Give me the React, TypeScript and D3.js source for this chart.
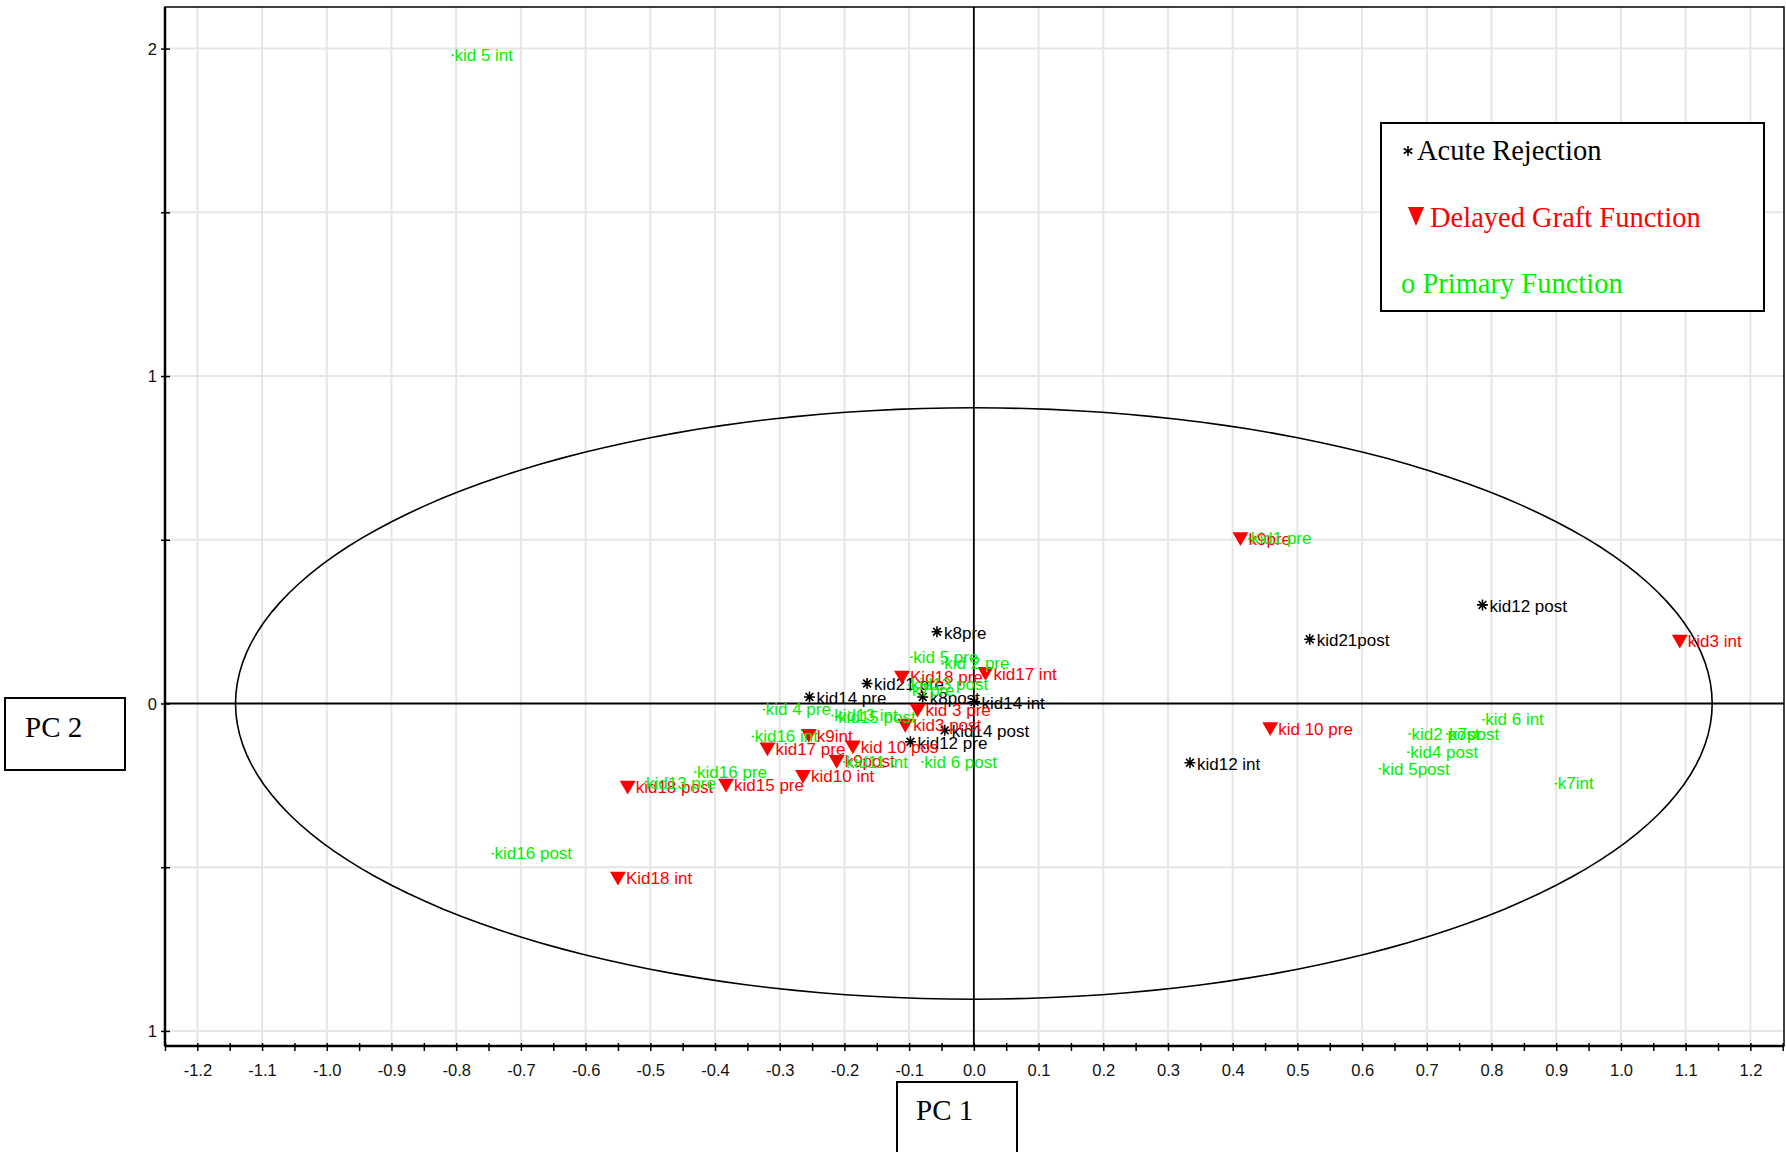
import * as d3 from "d3";
import React, { useEffect, useRef } from "react";

// Acute Rejection (black asterisks)
const acuteLabels = ["k8pre", "kid21 pre", "kid14 pre", "k8post", "kid14 int", "kid14 post", "kid12 pre", "kid12 post", "kid21post", "kid12 int"];
const acutePc1 = [-0.057, -0.165, -0.254, -0.079, 0.001, -0.045, -0.098, 0.786, 0.519, 0.334];
const acutePc2 = [0.219, 0.061, 0.02, 0.02, 0.005, -0.082, -0.117, 0.301, 0.196, -0.181];

// Delayed Graft Function (red triangles)
const delayedLabels = ["Kid18 pre", "kid17 int", "kid 3 pre", "kid3 post", "k9int", "kid17 pre", "kid 10 pos", "k9post", "kid10 int", "kid15 pre", "kid18 post", "Kid18 int", "k9pre", "kid 10 pre", "kid3 int"];
const delayedPc1 = [-0.111, 0.018, -0.087, -0.106, -0.255, -0.319, -0.187, -0.212, -0.264, -0.383, -0.535, -0.55, 0.412, 0.458, 1.091];
const delayedPc2 = [0.086, 0.097, -0.015, -0.061, -0.092, -0.133, -0.127, -0.171, -0.217, -0.244, -0.25, -0.528, 0.509, -0.071, 0.196];

// Primary Function (green dots)
const primaryLabels = ["kid 5 int", "kid 5 pre", "kid 2 pre", "kid13 post", "k7pre", "kid 4 pre", "kid13 int", "kid15 post", "kid16 int", "kid11 int", "kid 6 post", "kid16 pre", "kid13 pre", "kid16 post", "kid1 pre", "kid2 post", "k7post", "kid 6 int", "kid4 post", "kid 5post", "k7int"];
const primaryPc1 = [-0.805, -0.096, -0.048, -0.1, -0.098, -0.324, -0.218, -0.212, -0.341, -0.2, -0.079, -0.43, -0.509, -0.743, 0.426, 0.674, 0.732, 0.788, 0.672, 0.628, 0.9];
const primaryPc2 = [1.981, 0.142, 0.122, 0.058, 0.04, -0.018, -0.036, -0.04, -0.1, -0.178, -0.178, -0.209, -0.244, -0.458, 0.504, -0.092, -0.092, -0.049, -0.148, -0.199, -0.244];

const xTickValues = d3.range(-12, 13).map((i) => i / 10);
const xTickLabels = ["-1.2", "-1.1", "-1.0", "-0.9", "-0.8", "-0.7", "-0.6", "-0.5", "-0.4", "-0.3", "-0.2", "-0.1", "0.0", "0.1", "0.2", "0.3", "0.4", "0.5", "0.6", "0.7", "0.8", "0.9", "1.0", "1.1", "1.2"];
const yTickValues = [-1, 0, 1, 2];
const yTickLabels = ["1", "0", "1", "2"];

// correlation circle radii (PC1, PC2)
const ellipseRadii = [1.141, 0.903];

const legendLabels = ["Acute Rejection", "Delayed Graft Function", "Primary Function"];

const GREEN = "#00f000";
const RED = "#ff0000";
const SANS = "'Liberation Sans', Arial, sans-serif";
const SERIF = "'Liberation Serif', 'Times New Roman', serif";

const App: React.FC = () => {
  const ref = useRef<SVGSVGElement>(null);

  useEffect(() => {
    if (!ref.current) return;
    const svg = d3.select(ref.current);
    svg.selectAll("*").remove();

    const left = 165, right = 1784, top = 7, bottom = 1046;
    const x = d3.scaleLinear().domain([-1.25, 1.252]).range([left, right]);
    const y = d3.scaleLinear().domain([-1.046, 2.127]).range([bottom, top]);

    // grid
    const grid = svg.append("g").attr("stroke", "#e6e6e6").attr("stroke-width", 2);
    grid
      .selectAll("line.v")
      .data(xTickValues.filter((v) => Math.abs(v) > 1e-9))
      .join("line")
      .attr("x1", (d) => x(d))
      .attr("x2", (d) => x(d))
      .attr("y1", top)
      .attr("y2", bottom);
    grid
      .selectAll("line.h")
      .data([-1, -0.5, 0.5, 1, 1.5, 2])
      .join("line")
      .attr("x1", left)
      .attr("x2", right)
      .attr("y1", (d) => y(d))
      .attr("y2", (d) => y(d));

    // ellipse
    const angles = d3.range(0, 360, 2).map((a) => (a * Math.PI) / 180);
    const ellipse = d3
      .line<number>()
      .x((a) => x(ellipseRadii[0] * Math.cos(a)))
      .y((a) => y(ellipseRadii[1] * Math.sin(a)))
      .curve(d3.curveLinearClosed);
    svg
      .append("path")
      .attr("d", ellipse(angles))
      .attr("fill", "none")
      .attr("stroke", "#000")
      .attr("stroke-width", 1.6);

    // zero lines
    svg.append("line").attr("x1", left).attr("x2", right).attr("y1", y(0)).attr("y2", y(0)).attr("stroke", "#000").attr("stroke-width", 1.8);
    svg.append("line").attr("x1", x(0)).attr("x2", x(0)).attr("y1", top).attr("y2", bottom).attr("stroke", "#000").attr("stroke-width", 1.8);

    // frame
    svg.append("rect").attr("x", left).attr("y", top).attr("width", right - left).attr("height", bottom - top).attr("fill", "none").attr("stroke", "#000").attr("stroke-width", 1.5);
    svg.append("line").attr("x1", left).attr("x2", left).attr("y1", top).attr("y2", bottom).attr("stroke", "#000").attr("stroke-width", 2.5);
    svg.append("line").attr("x1", left).attr("x2", right).attr("y1", bottom).attr("y2", bottom).attr("stroke", "#000").attr("stroke-width", 2.5);

    // x axis
    const xAll = d3.range(-25, 26).map((i) => i / 20);
    const xAxis = d3
      .axisBottom(x)
      .tickValues(xAll)
      .tickSizeOuter(0)
      .tickFormat((d) => {
        const idx = xTickValues.findIndex((v) => Math.abs(v - (d as number)) < 1e-9);
        return idx >= 0 ? xTickLabels[idx] : "";
      });
    const gx = svg.append("g").attr("transform", `translate(0,${bottom})`).call(xAxis);
    gx.select(".domain").remove();
    gx.selectAll(".tick line").attr("y1", -3).attr("y2", 5).attr("stroke", "#000").attr("stroke-width", 1.5);
    gx.selectAll(".tick text").attr("y", 18).attr("dy", "0.71em").attr("fill", "#111").style("font-family", SANS).style("font-size", "16.5px");

    // y axis
    const yAxis = d3
      .axisLeft(y)
      .tickValues([-1, -0.5, 0, 0.5, 1, 1.5, 2])
      .tickSizeOuter(0)
      .tickFormat((d) => {
        const idx = yTickValues.indexOf(d as number);
        return idx >= 0 ? yTickLabels[idx] : "";
      });
    const gy = svg.append("g").attr("transform", `translate(${left},0)`).call(yAxis);
    gy.select(".domain").remove();
    gy.selectAll(".tick line").attr("x1", -4).attr("x2", 5).attr("stroke", "#000").attr("stroke-width", 1.5);
    gy.selectAll(".tick text").attr("x", -8).attr("dy", "0.36em").attr("fill", "#111").style("font-family", SANS).style("font-size", "16.5px");

    // points
    const labelSize = "17px";
    const acute = acuteLabels.map((l, i) => ({ l, px: x(acutePc1[i]), py: y(acutePc2[i]) }));
    const delayed = delayedLabels.map((l, i) => ({ l, px: x(delayedPc1[i]), py: y(delayedPc2[i]) }));
    const primary = primaryLabels.map((l, i) => ({ l, px: x(primaryPc1[i]), py: y(primaryPc2[i]) }));

    const star = (s: number, arms: number) => {
      const p = d3.path();
      for (let k = 0; k < arms; k++) {
        const a = (k * Math.PI) / arms + (arms === 3 ? Math.PI / 2 : 0);
        p.moveTo(-s * Math.cos(a), -s * Math.sin(a));
        p.lineTo(s * Math.cos(a), s * Math.sin(a));
      }
      return p.toString();
    };

    svg
      .append("g")
      .selectAll("path")
      .data(acute)
      .join("path")
      .attr("transform", (d) => `translate(${d.px},${d.py})`)
      .attr("d", star(5.5, 4))
      .attr("stroke", "#000")
      .attr("stroke-width", 1.6);
    svg
      .append("g")
      .selectAll("text")
      .data(acute)
      .join("text")
      .attr("x", (d) => d.px + 7)
      .attr("y", (d) => d.py + 1)
      .attr("dy", "0.35em")
      .attr("fill", "#000")
      .style("font-family", SANS)
      .style("font-size", labelSize)
      .text((d) => d.l);

    const tri = d3.symbol(d3.symbolTriangle, 110);
    svg
      .append("g")
      .selectAll("path")
      .data(delayed)
      .join("path")
      .attr("transform", (d) => `translate(${d.px},${d.py}) rotate(180)`)
      .attr("d", tri() as string)
      .attr("fill", RED);
    svg
      .append("g")
      .selectAll("text")
      .data(delayed)
      .join("text")
      .attr("x", (d) => d.px + 8)
      .attr("y", (d) => d.py + 2)
      .attr("dy", "0.35em")
      .attr("fill", RED)
      .style("font-family", SANS)
      .style("font-size", labelSize)
      .text((d) => d.l);

    svg
      .append("g")
      .selectAll("rect")
      .data(primary)
      .join("rect")
      .attr("x", (d) => d.px - 1.5)
      .attr("y", (d) => d.py - 0.5)
      .attr("width", 2.5)
      .attr("height", 1.5)
      .attr("fill", GREEN);
    svg
      .append("g")
      .selectAll("text")
      .data(primary)
      .join("text")
      .attr("x", (d) => d.px + 1.5)
      .attr("y", (d) => d.py)
      .attr("dy", "0.35em")
      .attr("fill", GREEN)
      .style("font-family", SANS)
      .style("font-size", labelSize)
      .text((d) => d.l);

    // legend
    const lg = svg.append("g").style("font-family", SERIF).style("font-size", "28.5px");
    lg.append("rect").attr("x", 1381).attr("y", 123).attr("width", 383).attr("height", 188).attr("fill", "#fff").attr("stroke", "#000").attr("stroke-width", 2);
    lg.append("path").attr("transform", "translate(1408,151)").attr("d", star(5, 3)).attr("stroke", "#000").attr("stroke-width", 1.5);
    lg.append("text").attr("x", 1417).attr("y", 160).attr("fill", "#000").text(legendLabels[0]);
    lg.append("path").attr("d", "M1408,207L1424,207L1416,226Z").attr("fill", RED);
    lg.append("text").attr("x", 1430).attr("y", 227).attr("fill", RED).text(legendLabels[1]);
    lg.append("text").attr("x", 1401).attr("y", 293).attr("fill", GREEN).text("o " + legendLabels[2]);

    // axis title boxes
    const t = svg.append("g").style("font-family", SERIF).style("font-size", "29px");
    t.append("rect").attr("x", 5).attr("y", 698).attr("width", 120).attr("height", 72).attr("fill", "#fff").attr("stroke", "#000").attr("stroke-width", 2);
    t.append("text").attr("x", 25).attr("y", 737).attr("fill", "#000").text("PC 2");
    t.append("rect").attr("x", 897).attr("y", 1082).attr("width", 120).attr("height", 100).attr("fill", "#fff").attr("stroke", "#000").attr("stroke-width", 2);
    t.append("text").attr("x", 916).attr("y", 1120).attr("fill", "#000").text("PC 1");
  }, []);

  return (
    <svg
      ref={ref}
      width={1786}
      height={1152}
      style={{ position: "absolute", left: 0, top: 0, background: "#fff" }}
    />
  );
};

export default App;
